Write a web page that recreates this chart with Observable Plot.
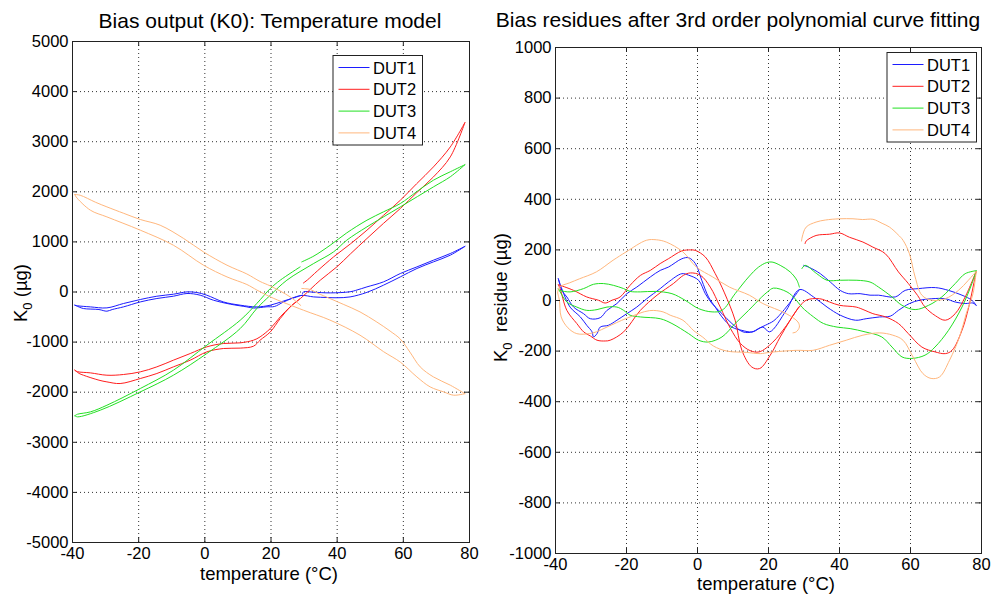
<!DOCTYPE html>
<html>
<head>
<meta charset="utf-8">
<script src="https://cdn.jsdelivr.net/npm/d3@7"></script>
<script src="https://cdn.jsdelivr.net/npm/@observablehq/plot@0.6"></script>
<style>
  html, body { margin: 0; padding: 0; background: #fff; }
  #wrap { display: flex; width: 992px; height: 595px; }
  #wrap svg { display: block; flex: none; max-width: none; }
</style>
</head>
<body>
<div id="wrap"></div>
<script>
// Temperature cycle of each device: leg A (30 → -40 °C), leg B (-40 → 80 °C), leg C (80 → 30 °C).
// Points are [temperature °C, value µg].

// ---- Bias output K0 (µg) ----
const biasDut1A = [[-39.3,-263],[-38.5,-275],[-34.6,-297],[-29.6,-317],[-24.6,-230],[-19.5,-150],[-14.5,-84],[-9.5,-44],[-5.4,2],[-2.4,-10],[0.6,-64],[5.6,-198],[10.7,-263],[15.7,-297],[19.8,-263],[23.8,-180],[27.8,-98],[29.0,-70]];
const biasDut1B = [[-39.3,-263],[-38.0,-300],[-36.7,-330],[-32.0,-350],[-29.6,-383],[-28.0,-350],[-24.6,-297],[-19.5,-198],[-14.5,-130],[-9.5,-84],[-5.4,-30],[-1.4,-64],[2.6,-164],[7.7,-243],[12.7,-297],[14.7,-320],[18.8,-295],[21.0,-290],[23.8,-200],[29.0,-70],[32.9,-98],[37.0,-110],[39.9,-115],[43.9,-98],[49.0,-7],[54.0,136],[59.1,302],[64.1,469],[69.1,601],[74.2,735],[78.6,910]];
const biasDut1C = [[29.5,-40],[29.8,2],[33.0,-5],[37.9,-18],[43.9,5],[46.0,40],[49.0,102],[54.0,202],[59.1,369],[64.1,501],[69.1,635],[74.2,768],[78.6,910]];

const biasDut2A = [[-39.3,-1561],[-38.5,-1590],[-34.6,-1614],[-29.6,-1661],[-24.6,-1647],[-19.5,-1594],[-14.5,-1494],[-9.5,-1361],[-4.4,-1228],[0.6,-1095],[5.6,-1028],[10.7,-1015],[14.7,-962],[16.7,-896],[19.8,-729],[22.8,-497],[25.8,-297],[28.6,-140]];
const biasDut2B = [[-39.3,-1561],[-38.0,-1625],[-36.7,-1661],[-32.0,-1760],[-29.6,-1794],[-25.6,-1827],[-19.5,-1727],[-14.5,-1627],[-9.5,-1494],[-4.4,-1361],[0.6,-1195],[5.6,-1128],[10.7,-1120],[14.7,-1082],[16.7,-962],[19.8,-796],[22.8,-529],[25.8,-297],[28.9,-130],[34.9,236],[39.9,501],[44.0,760],[49.0,1068],[54.0,1370],[59.1,1667],[64.0,1980],[69.1,2297],[74.2,2697],[78.6,3380]];
const biasDut2C = [[29.8,180],[31.0,240],[34.0,420],[38.9,700],[44.0,960],[49.0,1234],[54.0,1530],[59.1,1832],[64.0,2160],[69.1,2497],[74.2,2896],[78.6,3380]];

const biasDut3A = [[-39.3,-2470],[-38.5,-2440],[-34.6,-2393],[-29.6,-2260],[-19.5,-1926],[-9.5,-1561],[0.6,-1062],[10.7,-563],[15.7,-230],[19.8,70],[22.8,236],[28.8,501]];
const biasDut3B = [[-39.3,-2470],[-38.5,-2492],[-31.6,-2359],[-19.5,-1994],[-9.5,-1661],[0.6,-1228],[10.7,-729],[15.7,-330],[19.8,-64],[24.8,236],[32.9,569],[38.9,800],[42.9,1034],[49.0,1300],[59.1,1699],[69.1,2098],[74.2,2300],[78.6,2540]];
const biasDut3C = [[29.3,601],[33.0,720],[37.9,934],[42.9,1180],[49.0,1433],[54.0,1600],[59.1,1766],[64.0,2000],[69.1,2232],[74.2,2400],[78.6,2540]];

const biasDut4A = [[-39.3,1946],[-37.7,1932],[-33.0,1790],[-29.6,1699],[-24.5,1570],[-19.5,1447],[-13.5,1333],[-6.4,1068],[-0.4,800],[6.7,535],[12.7,360],[16.7,210],[19.8,120],[25.8,-98],[29.0,-270]];
const biasDut4B = [[-39.3,1946],[-38.9,1898],[-34.6,1633],[-29.6,1499],[-19.5,1234],[-9.5,934],[-0.4,535],[6.7,301],[12.7,150],[15.7,40],[19.8,-98],[29.8,-363],[37.8,-560],[46.9,-862],[54.0,-1190],[59.1,-1400],[64.1,-1695],[68.1,-1894],[72.2,-1994],[75.2,-2060],[78.6,-2030]];
const biasDut4C = [[29.3,70],[30.5,65],[31.9,50],[34.0,-20],[37.8,-130],[42.0,-250],[46.9,-397],[52.0,-600],[56.0,-780],[59.1,-940],[62.0,-1200],[65.1,-1495],[69.1,-1695],[74.2,-1860],[78.6,-2030]];

// ---- Residues after the 3rd order polynomial fit (µg) ----
const resDut1A = [[-39.2,86],[-38.2,40],[-36.8,14],[-34.9,-26],[-32.1,-52],[-30.2,-72],[-27.4,-68],[-25.5,-39],[-22.7,-12],[-19.9,27],[-17.1,53],[-13.3,93],[-10.5,119],[-8.2,132],[-4.4,165],[-2.5,169],[-0.6,146],[1.2,80],[3.1,14],[5.0,-26],[6.9,-65],[9.7,-105],[12.5,-118],[15.3,-124],[17.2,-111],[19.1,-98],[21.5,-80],[24.5,-35],[27.0,10],[28.7,43]];
const resDut1B = [[-39.2,86],[-38.9,73],[-37.7,27],[-35.9,-26],[-33.0,-65],[-31.2,-98],[-29.7,-124],[-29.3,-144],[-28.3,-131],[-27.4,-105],[-25.1,-98],[-22.7,-78],[-19.9,-52],[-17.1,-26],[-14.3,7],[-10.5,47],[-8.2,73],[-4.4,106],[-2.5,100],[0.3,80],[2.2,27],[4.1,-12],[6.9,-52],[9.7,-91],[12.8,-124],[15.6,-124],[18.4,-105],[20.3,-124],[25.0,-39],[28.7,43],[32.7,14],[36.5,-26],[40.2,-58],[44.5,-78],[47.5,-72],[51.3,-65],[54.3,-62],[56.6,-39],[59.7,-12],[62.5,1],[66.0,7],[69.8,7],[72.6,-6],[75.4,-12],[77.6,-10],[78.5,-19]];
const resDut1C = [[29.9,139],[31.3,132],[34.6,106],[37.4,73],[40.2,40],[42.5,27],[45.8,27],[48.6,21],[51.0,21],[55.7,14],[58.5,40],[62.3,47],[67.0,51],[70.7,40],[74.5,21],[77.3,1],[78.5,-19]];

const resDut2A = [[-39.2,62],[-38.7,60],[-34.9,40],[-31.2,14],[-27.9,1],[-26.0,-10],[-24.1,1],[-21.8,14],[-19.0,60],[-16.1,99],[-13.3,119],[-10.5,146],[-8.2,165],[-4.4,196],[-2.0,200],[-0.6,198],[2.2,172],[5.0,106],[7.6,30],[10.6,-78],[12.5,-197],[15.3,-263],[17.5,-269],[20.5,-216],[23.3,-144],[26.1,-78],[28.5,-26]];
const resDut2B = [[-39.2,62],[-38.7,47],[-36.8,-39],[-34.0,-91],[-32.0,-125],[-30.2,-140],[-28.3,-157],[-26.0,-160],[-24.6,-157],[-20.8,-124],[-16.1,-39],[-11.4,21],[-6.8,67],[-3.9,100],[-2.0,109],[0.8,100],[3.6,53],[6.4,-26],[9.3,-111],[12.1,-170],[14.8,-198],[17.4,-203],[21.2,-165],[25.0,-100],[28.3,-32],[30.6,1],[34.4,7],[37.2,-6],[40.0,-19],[44.7,-26],[47.2,-39],[49.4,-52],[53.0,-65],[56.6,-91],[59.4,-131],[63.2,-184],[66.9,-203],[69.8,-210],[71.7,-197],[74.5,-118],[76.4,-26],[78.5,115]];
const resDut2C = [[30.3,225],[30.6,235],[33.4,257],[37.2,262],[40.0,267],[42.8,250],[46.6,231],[49.4,211],[52.9,185],[56.6,113],[59.4,67],[62.0,20],[64.1,-26],[67.0,-60],[69.8,-78],[72.6,-52],[75.4,14],[78.5,115]];

const resDut3A = [[-39.2,45],[-38.7,40],[-35.9,34],[-32.1,47],[-29.3,64],[-26.5,67],[-23.7,60],[-20.8,47],[-19.0,36],[-16.1,34],[-11.9,36],[-7.2,27],[-3.5,1],[0.3,-32],[4.1,-45],[6.9,-39],[10.6,27],[14.4,93],[17.2,132],[19.5,150],[21.0,152],[23.3,139],[26.1,113],[28.0,80],[28.7,53]];
const resDut3B = [[-39.2,45],[-38.7,34],[-36.8,-6],[-34.0,-26],[-31.2,-39],[-28.3,-36],[-25.5,-26],[-22.7,-26],[-20.8,-39],[-19.0,-58],[-16.1,-65],[-10.5,-72],[-7.2,-91],[-2.5,-131],[0.3,-157],[3.1,-164],[6.9,-144],[10.6,-91],[14.4,-39],[18.1,14],[19.8,35],[21.4,49],[25.2,34],[27.5,7],[29.4,-26],[32.7,-65],[35.5,-91],[39.3,-105],[43.0,-111],[47.2,-124],[51.9,-144],[54.8,-184],[57.6,-223],[60.4,-229],[64.1,-216],[66.9,-184],[70.7,-118],[74.5,-26],[77.3,67],[78.5,118]];
const resDut3C = [[29.4,126],[30.3,139],[33.6,106],[36.5,80],[40.2,80],[44.9,80],[48.6,73],[51.0,53],[54.8,14],[57.6,-19],[61.3,-36],[65.1,-19],[68.8,14],[72.6,67],[75.4,106],[78.5,118]];

const resDut4A = [[-39.4,30],[-38.9,53],[-36.0,70],[-33.2,86],[-28.5,113],[-23.8,159],[-20.1,192],[-14.4,238],[-11.6,240],[-8.8,231],[-4.1,192],[-0.3,132],[4.3,93],[9.0,53],[14.6,21],[18.4,-12],[25.0,-52],[28.3,-85],[28.7,-105],[27.8,-124],[26.9,-128]];
const resDut4B = [[-39.4,30],[-38.9,1],[-38.4,-65],[-36.5,-108],[-34.0,-131],[-30.5,-131],[-28.5,-124],[-25.5,-105],[-19.9,-70],[-13.5,-40],[-9.7,-45],[-7.7,-58],[-4.1,-78],[-1.0,-120],[1.5,-145],[4.5,-180],[8.3,-200],[13.7,-205],[17.7,-210],[20.3,-205],[27.8,-197],[32.5,-197],[37.2,-177],[41.9,-157],[46.6,-137],[51.3,-128],[55.0,-137],[57.9,-157],[60.7,-223],[63.5,-289],[65.8,-308],[68.2,-302],[71.0,-236],[73.8,-144],[75.7,-52],[77.6,27],[78.5,115]];
const resDut4C = [[29.3,235],[29.5,251],[30.6,290],[33.4,310],[36.0,318],[40.0,323],[43.8,323],[46.5,320],[49.4,321],[52.0,305],[54.1,290],[56.5,260],[57.9,238],[59.7,185],[61.3,93],[63.2,21],[66.0,1],[69.8,7],[73.5,40],[76.3,80],[78.5,115]];

// ---- Categories, colours and ticks ----
const duts = ["DUT1", "DUT2", "DUT3", "DUT4"];
const dutColors = ["#1c1cff", "#ff1e1e", "#22e022", "#ffb77d"];
const tempTicks = [-40, -20, 0, 20, 40, 60, 80];
const biasTicks = [-5000, -4000, -3000, -2000, -1000, 0, 1000, 2000, 3000, 4000, 5000];
const residueTicks = [-1000, -800, -600, -400, -200, 0, 200, 400, 600, 800, 1000];

const FONT = '"Liberation Sans", Arial, Helvetica, sans-serif';

// flatten the legs into one table of {dut, leg, t, v}
function toRows(legs) {
  return legs.flatMap(([dut, leg, pts]) =>
    pts.map(([t, v]) => ({dut, leg: dut + leg, t, v})));
}

const biasRows = toRows([
  ["DUT1", "A", biasDut1A], ["DUT1", "B", biasDut1B], ["DUT1", "C", biasDut1C],
  ["DUT2", "A", biasDut2A], ["DUT2", "B", biasDut2B], ["DUT2", "C", biasDut2C],
  ["DUT3", "A", biasDut3A], ["DUT3", "B", biasDut3B], ["DUT3", "C", biasDut3C],
  ["DUT4", "A", biasDut4A], ["DUT4", "B", biasDut4B], ["DUT4", "C", biasDut4C]
]);
const residueRows = toRows([
  ["DUT1", "A", resDut1A], ["DUT1", "B", resDut1B], ["DUT1", "C", resDut1C],
  ["DUT2", "A", resDut2A], ["DUT2", "B", resDut2B], ["DUT2", "C", resDut2C],
  ["DUT3", "A", resDut3A], ["DUT3", "B", resDut3B], ["DUT3", "C", resDut3C],
  ["DUT4", "A", resDut4A], ["DUT4", "B", resDut4B], ["DUT4", "C", resDut4C]
]);

function panel(cfg) {
  const W = 496, H = 595;
  const m = cfg.margin;
  const plotW = W - m.left - m.right;
  const plotH = H - m.top - m.bottom;
  const ink = "#222";
  const dotted = {stroke: "#333", strokeOpacity: 1, strokeWidth: 1, strokeDasharray: "1,3"};

  const chart = Plot.plot({
    width: W, height: H,
    marginLeft: m.left, marginRight: m.right, marginTop: m.top, marginBottom: m.bottom,
    style: {fontFamily: FONT, fontSize: "16.5px", color: "#000", background: "#fff", overflow: "visible"},
    x: {domain: [-40, 80], ticks: tempTicks, tickFormat: d => String(d), tickSize: 0, tickPadding: 5, label: null},
    y: {domain: cfg.yDomain, ticks: cfg.yTicks, tickFormat: d => String(d), tickSize: 0, tickPadding: 4, label: null},
    color: {domain: duts, range: dutColors},
    marks: [
      Plot.gridX(tempTicks.slice(1, -1), dotted),
      Plot.gridY(cfg.yTicks.slice(1, -1), dotted),
      Plot.line(cfg.data, {x: "t", y: "v", z: "leg", stroke: "dut", strokeWidth: 1, curve: "catmull-rom"}),
      // inward ticks on all four sides of the box
      Plot.tickX(tempTicks, {x: d => d, stroke: ink, insetBottom: plotH - 5}),
      Plot.tickX(tempTicks, {x: d => d, stroke: ink, insetTop: plotH - 5}),
      Plot.tickY(cfg.yTicks, {y: d => d, stroke: ink, insetRight: plotW - 5}),
      Plot.tickY(cfg.yTicks, {y: d => d, stroke: ink, insetLeft: plotW - 5}),
      Plot.frame({stroke: ink})
    ]
  });

  const svg = d3.select(chart);
  const color = chart.scale("color");

  // title
  svg.append("text")
    .attr("x", cfg.title.x).attr("y", cfg.title.y)
    .attr("text-anchor", "middle")
    .attr("font-family", FONT).attr("font-size", 21).attr("fill", "#000")
    .text(cfg.title.text);

  // x axis label
  svg.append("text")
    .attr("x", cfg.xLabel.x).attr("y", cfg.xLabel.y)
    .attr("text-anchor", "middle")
    .attr("font-family", FONT).attr("font-size", 18.5).attr("fill", "#000")
    .text("temperature (°C)");

  // y axis label with subscript
  const yl = svg.append("text")
    .attr("transform", `translate(${cfg.yLabel.x},${cfg.yLabel.y}) rotate(-90)`)
    .attr("text-anchor", "middle")
    .attr("font-family", FONT).attr("font-size", 18.5).attr("fill", "#000");
  yl.append("tspan").text("K");
  yl.append("tspan").attr("font-size", 13).attr("dy", 5).text("0");
  yl.append("tspan").attr("dy", -5).text(cfg.yLabel.rest);

  // legend box in the upper right corner of the axes
  const bw = 89.5, bh = 89.5;
  const bx = W - m.right - cfg.legend.dx - bw;
  const by = m.top + cfg.legend.dy;
  const lg = svg.append("g").attr("transform", `translate(${bx},${by})`);
  lg.append("rect")
    .attr("x", 0.5).attr("y", 0.5).attr("width", bw).attr("height", bh)
    .attr("fill", "#fff").attr("stroke", ink).attr("stroke-width", 1);
  duts.forEach((d, i) => {
    const ry = 12.5 + i * 21.8;
    lg.append("line")
      .attr("x1", 6).attr("x2", 37).attr("y1", ry).attr("y2", ry)
      .attr("stroke", color.apply(d)).attr("stroke-width", 1);
    lg.append("text")
      .attr("x", 40.5).attr("y", ry + 6)
      .attr("text-anchor", "start")
      .attr("font-family", FONT).attr("font-size", 16.5).attr("fill", "#000")
      .text(d);
  });

  return chart;
}

const wrap = document.getElementById("wrap");

wrap.appendChild(panel({
  data: biasRows,
  yDomain: [-5000, 5000],
  yTicks: biasTicks,
  margin: {top: 41, right: 27, bottom: 53, left: 72},
  title: {text: "Bias output (K0): Temperature model", x: 270, y: 28},
  xLabel: {x: 269, y: 580},
  yLabel: {x: 27, y: 293, rest: " (µg)"},
  legend: {dx: 47, dy: 14}
}));

wrap.appendChild(panel({
  data: residueRows,
  yDomain: [-1000, 1000],
  yTicks: residueTicks,
  margin: {top: 47, right: 11, bottom: 42, left: 59},
  title: {text: "Bias residues after 3rd order polynomial curve fitting", x: 242, y: 26.5},
  xLabel: {x: 270, y: 589.5},
  yLabel: {x: 10.5, y: 297.5, rest: "  residue (µg)"},
  legend: {dx: 5, dy: 5}
}));
</script>
</body>
</html>
